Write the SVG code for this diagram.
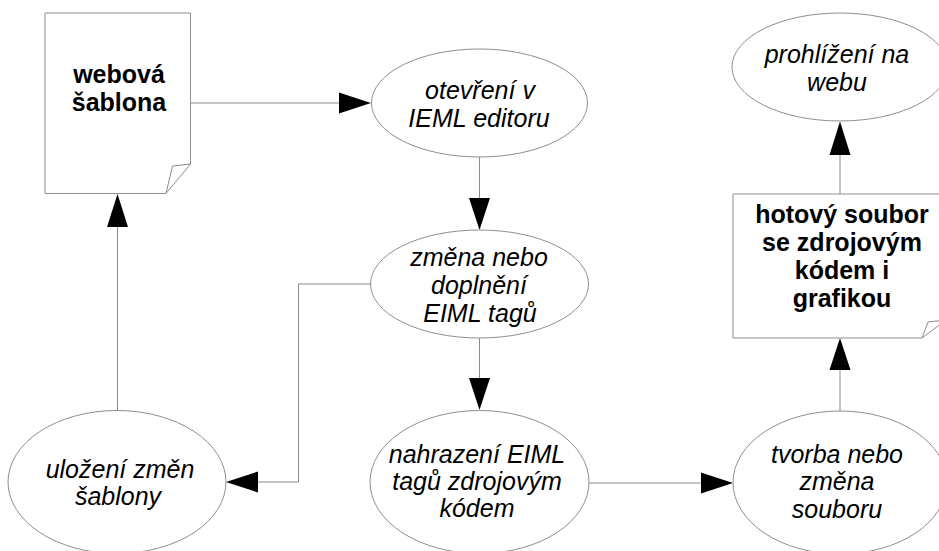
<svg xmlns="http://www.w3.org/2000/svg" width="939" height="551" viewBox="0 0 939 551">
<style>
.shape{fill:#fff;stroke:#8f8f8f;stroke-width:1}
.line{fill:none;stroke:#8a8a8a;stroke-width:1}
.head{fill:#000;stroke:none}
.it{font-family:"Liberation Sans",Arial,sans-serif;font-style:italic;font-size:25px;fill:#000;text-anchor:middle}
.bd{font-family:"Liberation Sans",Arial,sans-serif;font-weight:bold;font-size:25px;fill:#000;text-anchor:middle}
</style>
<rect width="939" height="551" fill="#fff"/>
<g id="connectors">
<line class="line" x1="190.5" y1="103" x2="340" y2="103"/>
<polygon class="head" points="371,103 339,92.5 339,113.5"/>
<line class="line" x1="479.5" y1="157" x2="479.5" y2="199"/>
<polygon class="head" points="479.5,230 469,198 490,198"/>
<polyline class="line" points="370,284 298.5,284 298.5,482 257,482"/>
<polygon class="head" points="226,482 258,471.5 258,492.5"/>
<line class="line" x1="479.5" y1="338" x2="479.5" y2="379"/>
<polygon class="head" points="479.5,410 469,378 490,378"/>
<line class="line" x1="589" y1="483" x2="702" y2="483"/>
<polygon class="head" points="733,483 701,472.5 701,493.5"/>
<line class="line" x1="840" y1="411" x2="840" y2="369"/>
<polygon class="head" points="840,338 829.5,370 850.5,370"/>
<line class="line" x1="840" y1="194" x2="840" y2="154"/>
<polygon class="head" points="840,121.5 829.5,155 850.5,155"/>
<line class="line" x1="117.5" y1="410" x2="117.5" y2="226"/>
<polygon class="head" points="117.5,194 107,227 128,227"/>
</g>
<g id="webova-sablona">
<path class="shape" d="M45,13 H190.5 V164 L166,193.5 H45 Z"/>
<path class="line" d="M166,193.5 L172.5,166 L190.5,164"/>
<text class="bd" x="119" y="83">webová</text>
<text class="bd" x="119" y="111">šablona</text>
</g>
<g id="otevreni">
<ellipse class="shape" cx="479.5" cy="103" rx="108" ry="54"/>
<text class="it" x="480" y="99">otevření v</text>
<text class="it" x="479" y="127">IEML editoru</text>
</g>
<g id="zmena">
<ellipse class="shape" cx="479.5" cy="284" rx="109" ry="54"/>
<text class="it" x="479" y="266">změna nebo</text>
<text class="it" x="479" y="294">doplnění</text>
<text class="it" x="480" y="322">EIML tagů</text>
</g>
<g id="ulozeni">
<ellipse class="shape" cx="117" cy="482" rx="109" ry="71.5"/>
<text class="it" x="120" y="478">uložení změn</text>
<text class="it" x="118" y="505">šablony</text>
</g>
<g id="nahrazeni">
<ellipse class="shape" cx="479.5" cy="482" rx="109.5" ry="71.5"/>
<text class="it" x="477" y="463">nahrazení EIML</text>
<text class="it" x="477" y="490">tagů zdrojovým</text>
<text class="it" x="477" y="517">kódem</text>
</g>
<g id="tvorba">
<ellipse class="shape" cx="840" cy="482.5" rx="107" ry="71.5"/>
<text class="it" x="837" y="463">tvorba nebo</text>
<text class="it" x="837" y="490">změna</text>
<text class="it" x="837" y="518">souboru</text>
</g>
<g id="hotovy-soubor">
<path class="shape" d="M733,194 H946 V320 L922,338 H733 Z"/>
<path class="line" d="M922,338 L928,322 L946,320"/>
<text class="bd" x="842" y="223">hotový soubor</text>
<text class="bd" x="842" y="251">se zdrojovým</text>
<text class="bd" x="842" y="279">kódem i</text>
<text class="bd" x="842" y="307">grafikou</text>
</g>
<g id="prohlizeni">
<ellipse class="shape" cx="840" cy="67" rx="108" ry="54"/>
<text class="it" x="837" y="63">prohlížení na</text>
<text class="it" x="837" y="91">webu</text>
</g>
</svg>
